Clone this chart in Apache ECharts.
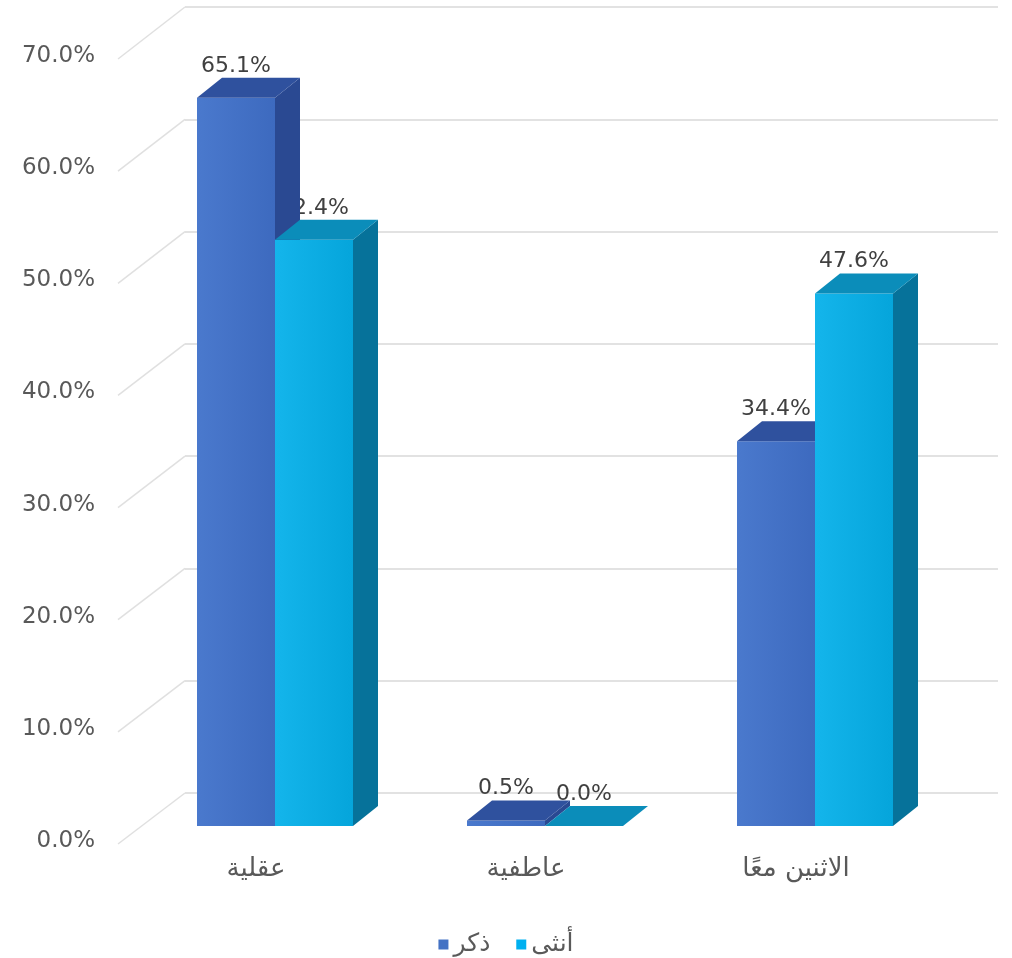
<!DOCTYPE html>
<html>
<head>
<meta charset="utf-8">
<script src="https://cdn.jsdelivr.net/npm/echarts@6/dist/echarts.min.js"></script>
<style>
  html, body { margin: 0; padding: 0; background: #ffffff; }
  #chart { width: 1012px; height: 958px; }
</style>
</head>
<body>
<div id="chart"></div>
<script>
// Categories and values (percent)
const categories = ['عقلية', 'عاطفية', 'الاثنين معًا'];
const maleValues = [65.1, 0.5, 34.4];
const femaleValues = [52.4, 0.0, 47.6];
const seriesNames = ['ذكر', 'أنثى'];
// Value axis range and tick step
const axisMin = 0;
const axisMax = 70;
const axisStep = 10;

// Look of the pseudo-3D bars
const FONT = '"DejaVu Sans", sans-serif';
const BAR_FRACTION = 78 / 270;   // share of a category band taken by one bar
const DEPTH_X = 25;              // depth offset of top / side faces
const DEPTH_Y = 20;
const palettes = [
  { front: ['#4a79cd', '#3d6abf'], top: '#2f519e', side: '#2a4992', legend: '#4472c4', z: 10 },
  { front: ['#14b5eb', '#05a5db'], top: '#0b8dba', side: '#06729a', legend: '#00b0f0', z: 20 }
];

function makeRenderer(sideIndex) {
  const pal = palettes[sideIndex];
  return function (params, api) {
    const cat = api.value(0);
    const val = api.value(1);
    const base = api.coord([cat, 0]);
    const top = api.coord([cat, val]);
    const band = api.size([1, 0])[0];
    const w = band * BAR_FRACTION;
    const x0 = sideIndex === 0 ? base[0] - w : base[0];
    const x1 = x0 + w;
    const yb = base[1];
    const yt = top[1];
    const children = [
      {
        type: 'polygon', z2: pal.z,
        shape: { points: [[x1, yt], [x1 + DEPTH_X, yt - DEPTH_Y], [x1 + DEPTH_X, yb - DEPTH_Y], [x1, yb]] },
        style: { fill: pal.side }
      },
      {
        type: 'polygon', z2: pal.z + 1,
        shape: { points: [[x0, yt], [x1, yt], [x1, yb], [x0, yb]] },
        style: {
          fill: new echarts.graphic.LinearGradient(0, 0, 1, 0, [
            { offset: 0, color: pal.front[0] },
            { offset: 1, color: pal.front[1] }
          ])
        }
      },
      {
        type: 'polygon', z2: pal.z + 2,
        shape: { points: [[x0, yt], [x0 + DEPTH_X, yt - DEPTH_Y], [x1 + DEPTH_X, yt - DEPTH_Y], [x1, yt]] },
        style: { fill: pal.top }
      },
      {
        type: 'text', z2: 5,
        x: (x0 + x1) / 2,
        y: yt - DEPTH_Y - 1,
        style: {
          text: val.toFixed(1) + '%',
          fill: '#404040',
          font: '22px ' + FONT,
          align: 'center',
          verticalAlign: 'bottom'
        }
      }
    ];
    return { type: 'group', children: children };
  };
}

const chart = echarts.init(document.getElementById('chart'), null, { renderer: 'canvas' });

chart.setOption({
  animation: false,
  backgroundColor: '#ffffff',
  legend: {
    data: seriesNames,
    top: 927,
    left: 'center',
    icon: 'rect',
    itemWidth: 10,
    itemHeight: 10,
    itemGap: 26,
    textStyle: { fontFamily: FONT, fontSize: 25, color: '#595959' }
  },
  grid: [
    // back wall
    { left: 185, right: 14, top: 7, bottom: 165 },
    // value labels on the side wall
    { left: 118, right: 14, top: 56, bottom: 117 },
    // front plane of the bars
    { left: 140, right: 62, top: 43, bottom: 132 }
  ],
  xAxis: [
    { gridIndex: 0, type: 'category', data: categories, show: false },
    { gridIndex: 1, type: 'category', data: categories, show: false },
    {
      gridIndex: 2, type: 'category', data: categories,
      axisLine: { show: false }, axisTick: { show: false },
      axisLabel: {
        margin: 30, fontFamily: FONT, fontSize: 26, color: '#595959',
        padding: [0, 38, 0, 0]
      }
    }
  ],
  yAxis: [
    {
      gridIndex: 0, type: 'value', min: axisMin, max: axisMax, interval: axisStep,
      axisLabel: { show: false }, axisLine: { show: false }, axisTick: { show: false },
      splitLine: { lineStyle: { color: '#d9d9d9', width: 1.5 } }
    },
    {
      gridIndex: 1, type: 'value', min: axisMin, max: axisMax, interval: axisStep,
      axisLine: { show: false }, axisTick: { show: false }, splitLine: { show: false },
      axisLabel: {
        margin: 23, fontFamily: FONT, fontSize: 23, color: '#595959',
        formatter: v => v.toFixed(1) + '%'
      }
    },
    {
      gridIndex: 2, type: 'value', min: axisMin, max: axisMax, interval: axisStep,
      show: false
    }
  ],
  series: [
    {
      name: seriesNames[0], type: 'custom', xAxisIndex: 2, yAxisIndex: 2,
      itemStyle: { color: palettes[0].legend },
      renderItem: makeRenderer(0),
      data: maleValues.map((v, i) => [i, v])
    },
    {
      name: seriesNames[1], type: 'custom', xAxisIndex: 2, yAxisIndex: 2,
      itemStyle: { color: palettes[1].legend },
      renderItem: makeRenderer(1),
      data: femaleValues.map((v, i) => [i, v])
    }
  ]
});

// Side-wall lines joining each value label to its back-wall gridline
const wallLines = [];
for (let v = axisMin; v <= axisMax; v += axisStep) {
  const yFront = chart.convertToPixel({ yAxisIndex: 1 }, v) + 3;
  const yBack = chart.convertToPixel({ yAxisIndex: 0 }, v);
  wallLines.push({
    type: 'line', silent: true, z: 0,
    shape: { x1: 118, y1: yFront, x2: 185, y2: yBack },
    style: { stroke: '#e0e0e0', lineWidth: 1.5 }
  });
}
chart.setOption({ graphic: wallLines });
</script>
</body>
</html>
